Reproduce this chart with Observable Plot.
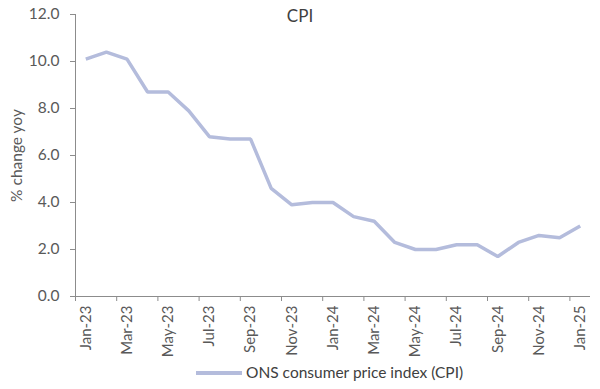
<!DOCTYPE html>
<html>
<head>
<meta charset="utf-8">
<script src="https://cdn.jsdelivr.net/npm/d3@7"></script>
<script src="https://cdn.jsdelivr.net/npm/@observablehq/plot@0.6"></script>
<style>
  html, body { margin: 0; padding: 0; background: #fff; }
  #wrap { position: relative; width: 600px; height: 389px; font-family: Lato, "Open Sans", sans-serif; color: #595959; }
  #title { position: absolute; left: 0; width: 600px; top: 5px; text-align: center; font-size: 17px; color: #404040; }
  #legend { position: absolute; left: 196px; top: 363px; white-space: nowrap; font-size: 15.5px; color: #404040; }
  #legend .sw { display: inline-block; width: 46px; height: 3.5px; background: #B4BCDC; vertical-align: middle; margin-right: 4px; position: relative; top: -1px; }
  #chart { position: absolute; left: 0; top: 0; }
</style>
</head>
<body>
<div id="wrap">
  <div id="chart"></div>
  <div id="title">CPI</div>
  <div id="legend"><span class="sw"></span>ONS consumer price index (CPI)</div>
</div>
<script>
const months = ["Jan-23","Feb-23","Mar-23","Apr-23","May-23","Jun-23","Jul-23","Aug-23","Sep-23","Oct-23","Nov-23","Dec-23",
                "Jan-24","Feb-24","Mar-24","Apr-24","May-24","Jun-24","Jul-24","Aug-24","Sep-24","Oct-24","Nov-24","Dec-24","Jan-25"];
const cpi = [10.1, 10.4, 10.1, 8.7, 8.7, 7.9, 6.8, 6.7, 6.7, 4.6, 3.9, 4.0,
             4.0, 3.4, 3.2, 2.3, 2.0, 2.0, 2.2, 2.2, 1.7, 2.3, 2.6, 2.5, 3.0];
const yTicks = [0, 2, 4, 6, 8, 10, 12];
const seriesName = "ONS consumer price index (CPI)";

const data = months.map((m, i) => ({i, month: m, value: cpi[i]}));
const labelIdx = months.map((m, i) => i).filter(i => i % 2 === 0);
const boundaries = d3.range(-0.5, months.length, 2);

const axisColor = "#8c8c8c";
const textColor = "#595959";

const chart = Plot.plot({
  width: 600,
  height: 389,
  marginLeft: 75,
  marginRight: 10,
  marginTop: 14,
  marginBottom: 93,
  style: {fontFamily: "Lato, 'Open Sans', sans-serif", fontSize: "15px", color: textColor, background: "transparent"},
  x: {type: "linear", domain: [-0.5, months.length - 0.5]},
  y: {domain: [0, 12]},
  marks: [
    Plot.axisY({ticks: yTicks, tickFormat: d => d.toFixed(1), tickSize: 5, tickPadding: 11, stroke: axisColor, color: textColor, fontSize: 15.5,
                label: "% change yoy", labelAnchor: "center", labelArrow: "none", labelOffset: 65}),
    Plot.axisX({ticks: boundaries, tickFormat: () => "", tickSize: 5, stroke: axisColor, label: null}),
    Plot.axisX({ticks: labelIdx, tickFormat: i => months[i], tickSize: 0, tickPadding: 9, tickRotate: -90, fontSize: 15, color: textColor, label: null}),
    Plot.ruleX([-0.5], {stroke: axisColor, strokeWidth: 1}),
    Plot.ruleY([0], {stroke: axisColor, strokeWidth: 1}),
    Plot.line(data, {x: "i", y: "value", stroke: "#B4BCDC", strokeWidth: 3.5, strokeLinejoin: "miter", strokeLinecap: "butt", title: () => seriesName})
  ]
});
document.getElementById("chart").appendChild(chart);
</script>
</body>
</html>
